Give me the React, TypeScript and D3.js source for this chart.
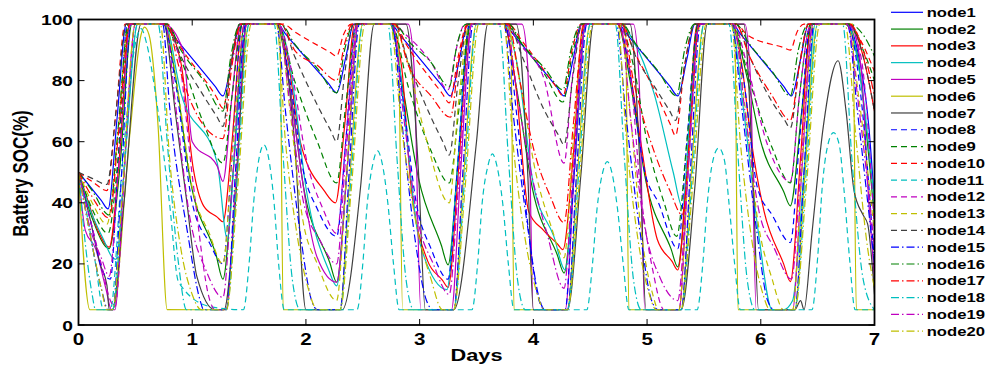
import React from "react";
import * as d3 from "d3";

type Pt = [number, number];
const P = 98.5;

const nodeNames = ["node1","node2","node3","node4","node5","node6","node7","node8","node9","node10","node11","node12","node13","node14","node15","node16","node17","node18","node19","node20"];
const nodeColors = ["#0000ff","#008000","#ff0000","#00bfbf","#bf00bf","#bfbf00","#404040","#0000ff","#008000","#ff0000","#00bfbf","#bf00bf","#bfbf00","#404040","#0000ff","#008000","#ff0000","#00bfbf","#bf00bf","#bfbf00"];
const nodeStyles = ["solid","solid","solid","solid","solid","solid","solid","dash","dash","dash","dash","dash","dash","dash","dashdot","dashdot","dashdot","dashdot","dashdot","dashdot"];

const xTicks = [0, 1, 2, 3, 4, 5, 6, 7];
const yTicks = [0, 20, 40, 60, 80, 100];

const node1: Pt[] = [[0,50],[0.2,40.8],[0.26,38],[0.34,68],[0.42,P],[0.75,P],[0.82,95.3],[1.2,78.2],[1.27,75],[1.35,87],[1.42,P],[1.75,P],[1.82,95.3],[2.2,79],[2.27,76],[2.35,87.5],[2.42,P],[2.75,P],[2.82,95.3],[3.2,78.2],[3.27,75],[3.35,87],[3.42,P],[3.75,P],[3.82,95.3],[4.2,78.2],[4.27,75],[4.35,87],[4.42,P],[4.75,P],[4.82,95.3],[5.2,78.2],[5.27,75],[5.35,87],[5.42,P],[5.75,P],[5.82,95.3],[6.2,78.2],[6.27,75],[6.35,87],[6.42,P],[6.76,P],[6.85,90],[6.95,65],[7,40]];
const node2: Pt[] = [[0,50],[0.12,35],[0.27,25],[0.36,50],[0.47,P],[0.75,P],[0.85,82],[0.98,48],[1.21,22.9],[1.27,15],[1.36,50],[1.46,P],[1.74,P],[1.85,80],[1.98,45],[2.21,20.4],[2.27,14],[2.36,50],[2.46,P],[2.74,P],[2.85,78],[2.99,48],[3.19,26.2],[3.25,19.7],[3.34,55],[3.45,P],[3.74,P],[3.85,78],[3.99,45],[4.21,23],[4.27,17],[4.36,50],[4.46,P],[4.74,P],[4.85,80],[4.99,47],[5.21,25],[5.27,19],[5.36,55],[5.45,P],[5.74,P],[5.88,81],[6.0,60],[6.2,43.8],[6.26,39],[6.36,70],[6.45,P],[6.74,P],[6.85,88],[6.95,55],[7,35]];
const node3: Pt[] = [[0,50],[0.08,41],[0.17,31],[0.27,25.5],[0.36,55],[0.45,P],[0.75,P],[0.9,86],[1.01,51],[1.1,39],[1.22,35.3],[1.27,33.8],[1.35,60],[1.44,P],[1.74,P],[1.84,87],[1.95,60],[2.16,44],[2.26,40],[2.34,65],[2.43,P],[2.74,P],[2.84,85],[2.92,47],[3.07,21],[3.2,14.7],[3.25,12.3],[3.34,50],[3.44,P],[3.74,P],[3.84,80],[3.96,37],[4.09,31],[4.21,26.6],[4.26,24.7],[4.35,55],[4.44,P],[4.74,P],[4.84,85],[4.94,61],[5.09,28],[5.22,20.8],[5.27,18],[5.35,50],[5.44,P],[5.74,P],[5.83,86],[5.91,62],[6.03,37],[6.2,20.1],[6.26,14.2],[6.35,55],[6.44,P],[6.78,P],[6.9,88],[7,70]];
const node4: Pt[] = [[0,50],[0.1,38],[0.22,28],[0.3,22],[0.33,21.5],[0.42,60],[0.52,P],[0.76,P],[0.9,76],[1.22,53],[1.31,28],[1.38,60],[1.48,P],[1.76,P],[1.88,80],[2.0,45],[2.2,18],[2.27,12.8],[2.36,50],[2.46,P],[2.74,P],[2.81,89],[2.89,60],[3.0,27],[3.24,11.6],[3.32,45],[3.44,P],[3.74,P],[3.86,85],[4.0,46],[4.18,29],[4.28,18],[4.36,50],[4.46,P],[4.76,P],[4.88,93],[5.06,76],[5.23,50],[5.31,38.6],[5.38,70],[5.46,P],[5.74,P],[5.85,70],[5.98,30],[6.1,5],[6.2,5],[6.28,8],[6.38,50],[6.48,P],[6.76,P],[6.88,80],[7,40]];
const node5: Pt[] = [[0,50],[0.06,31],[0.15,25],[0.24,12],[0.29,5],[0.32,5],[0.4,50],[0.5,P],[0.75,P],[0.92,90],[1.0,60],[1.22,52],[1.27,47],[1.35,75],[1.43,P],[1.75,P],[1.85,80],[1.9,66],[2.1,22],[2.27,14],[2.36,50],[2.46,P],[2.9,P],[2.95,85],[3.01,5],[3.28,5],[3.36,50],[3.46,P],[3.9,P],[3.95,85],[4.0,5],[4.28,5],[4.36,50],[4.46,P],[4.88,P],[4.93,80],[4.98,5],[5.28,5],[5.36,50],[5.46,P],[5.86,P],[5.91,80],[5.96,5],[6.28,5],[6.36,50],[6.46,P],[6.78,P],[6.88,85],[6.95,40],[7,15]];
const node6: Pt[] = [[0,50],[0.1,5],[0.3,5],[0.45,62],[0.55,95],[0.58,97.5],[0.62,95],[0.7,65],[0.78,5],[1.3,5],[1.38,45],[1.5,P],[1.77,P],[1.8,5],[2.3,5],[2.38,45],[2.5,P],[2.81,P],[2.85,5],[3.3,5],[3.38,45],[3.5,P],[3.8,P],[3.83,5],[4.3,5],[4.38,45],[4.5,P],[4.81,P],[4.84,5],[5.3,5],[5.38,45],[5.5,P],[5.77,P],[5.8,5],[6.3,5],[6.38,45],[6.5,P],[6.81,P],[6.84,5],[7,5]];
const node7: Pt[] = [[0,50],[0.1,35],[0.19,20],[0.25,13],[0.27,5],[0.3,5],[0.4,40],[0.55,P],[0.75,P],[0.85,70],[0.95,41],[1.04,16],[1.2,5],[1.28,5],[1.38,40],[1.48,P],[1.74,P],[1.9,60],[2.0,5],[2.32,5],[2.48,45],[2.6,P],[2.88,P],[2.99,50],[3.05,5],[3.3,5],[3.5,60],[3.6,P],[3.85,P],[3.95,50],[4.0,5],[4.3,5],[4.42,50],[4.53,P],[4.85,P],[4.94,50],[4.99,5],[5.3,5],[5.42,45],[5.53,P],[5.85,P],[5.93,50],[5.98,5],[6.3,5],[6.35,8],[6.38,5],[6.45,30],[6.55,65],[6.68,86.5],[6.75,70],[6.82,44],[6.9,36],[6.94,33],[7,10]];
const node8: Pt[] = [[0,50],[0.12,32],[0.22,17],[0.28,15],[0.35,55],[0.43,P],[0.75,P],[0.85,80],[1.0,40],[1.15,27],[1.27,20],[1.35,55],[1.44,P],[1.75,P],[1.85,82],[1.98,50],[2.1,38],[2.27,29],[2.35,60],[2.44,P],[2.75,P],[2.85,75],[2.97,40],[3.1,25],[3.25,15],[3.33,50],[3.44,P],[3.75,P],[3.85,70],[3.96,30],[4.05,8],[4.1,5],[4.28,5],[4.35,45],[4.45,P],[4.75,P],[4.85,82],[4.98,50],[5.1,40],[5.27,25],[5.35,60],[5.45,P],[5.75,P],[5.85,80],[5.97,45],[6.1,36],[6.26,27],[6.34,60],[6.44,P],[6.76,P],[6.88,75],[7,20]];
const node9: Pt[] = [[0,50],[0.12,38],[0.26,30],[0.35,55],[0.45,P],[0.75,P],[0.9,87],[1.1,66],[1.27,53],[1.35,75],[1.44,P],[1.75,P],[1.9,80],[2.1,60],[2.27,46.5],[2.35,72],[2.45,P],[2.75,P],[2.9,78],[3.1,57],[3.26,46.5],[3.35,72],[3.45,P],[3.75,P],[3.9,92],[4.1,82],[4.26,73],[4.34,88],[4.43,P],[4.75,P],[4.88,85],[5.0,60],[5.15,40],[5.26,29],[5.35,60],[5.45,P],[5.75,P],[5.9,80],[6.1,58],[6.26,46.5],[6.34,75],[6.44,P],[6.76,P],[6.9,90],[7,80]];
const node10: Pt[] = [[0,50],[0.12,47],[0.25,44],[0.33,70],[0.41,P],[0.78,P],[0.88,92],[1.21,74.8],[1.27,71],[1.35,88],[1.42,P],[1.8,P],[1.9,96],[2.21,89.3],[2.27,88],[2.33,95],[2.4,P],[2.78,P],[2.88,92],[3.2,75.7],[3.26,72.7],[3.34,88],[3.42,P],[3.78,P],[3.9,93],[4.2,78],[4.26,75],[4.34,90],[4.42,P],[4.78,P],[4.88,90],[5.05,78],[5.2,66],[5.25,62],[5.33,85],[5.42,P],[5.78,P],[5.88,95],[6.2,90.8],[6.26,90],[6.32,96],[6.38,P],[6.78,P],[6.88,93],[7,83]];
const node11: Pt[] = [[0,50],[0.08,35],[0.15,20],[0.22,5],[0.28,5],[0.38,50],[0.5,92],[0.55,97],[0.6,92],[0.68,75],[0.8,40],[0.88,14],[1.16,6],[1.45,5],[1.5,20],[1.54,40],[1.59,55],[1.63,59],[1.67,55],[1.72,40],[1.76,20],[1.81,5],[2.45,5],[2.5,20],[2.54,40],[2.59,53],[2.63,57],[2.67,53],[2.72,40],[2.77,20],[2.82,5],[3.46,5],[3.51,20],[3.55,40],[3.6,52],[3.64,56],[3.68,52],[3.73,40],[3.78,20],[3.83,5],[4.47,5],[4.52,20],[4.56,38],[4.61,50],[4.65,53.5],[4.69,50],[4.74,38],[4.79,20],[4.84,5],[5.44,5],[5.49,20],[5.53,40],[5.58,54],[5.63,58],[5.68,54],[5.72,40],[5.77,20],[5.82,5],[6.45,5],[6.5,22],[6.54,45],[6.59,59],[6.64,63],[6.69,59],[6.73,45],[6.78,22],[6.83,5],[7,5]];
const node12: Pt[] = [[0,50],[0.1,35],[0.2,20],[0.28,8],[0.32,6],[0.42,60],[0.5,P],[0.76,P],[0.88,88],[1.0,49],[1.16,7.5],[1.2,5],[1.3,5],[1.38,45],[1.48,P],[1.76,P],[1.88,82],[2.0,55],[2.15,38],[2.27,30],[2.35,60],[2.45,P],[2.76,P],[2.88,95],[3.1,86],[3.25,77],[3.32,90],[3.4,P],[3.76,P],[3.88,92],[4.09,81],[4.27,53],[4.34,80],[4.43,P],[4.76,P],[4.86,80],[4.94,45],[5.05,18],[5.15,5],[5.28,5],[5.36,50],[5.46,P],[5.76,P],[5.88,85],[6.05,60],[6.26,47],[6.34,75],[6.44,P],[6.76,P],[6.88,88],[7,31]];
const node13: Pt[] = [[0,50],[0.12,40],[0.25,33],[0.34,60],[0.44,P],[0.76,P],[0.88,75],[1.0,45],[1.15,30],[1.27,20],[1.35,55],[1.46,P],[1.76,P],[1.86,70],[1.97,35],[2.1,20],[2.27,8],[2.35,45],[2.46,P],[2.76,P],[2.88,88],[3.05,62],[3.26,40],[3.34,72],[3.44,P],[3.76,P],[3.88,80],[4.02,50],[4.15,33],[4.27,22],[4.35,60],[4.45,P],[4.76,P],[4.85,70],[4.95,30],[5.05,10],[5.1,5],[5.28,5],[5.36,50],[5.47,P],[5.76,P],[5.86,72],[5.97,35],[6.1,15],[6.2,5],[6.28,5],[6.36,50],[6.47,P],[6.76,P],[6.86,75],[7,30]];
const node14: Pt[] = [[0,50],[0.12,48],[0.25,46],[0.33,70],[0.42,P],[0.78,P],[0.9,88],[1.1,75],[1.22,68],[1.27,65],[1.34,85],[1.42,P],[1.78,P],[1.9,88],[2.1,72],[2.22,63.5],[2.27,60],[2.34,82],[2.42,P],[2.78,P],[2.9,86],[3.1,68],[3.21,59.5],[3.26,55.6],[3.34,80],[3.43,P],[3.78,P],[3.9,88],[4.1,70],[4.22,62.2],[4.27,59],[4.35,82],[4.43,P],[4.78,P],[4.9,88],[5.1,76],[5.2,70],[5.25,67],[5.33,85],[5.42,P],[5.78,P],[5.9,88],[6.1,73],[6.21,67],[6.26,64.5],[6.34,85],[6.42,P],[6.78,P],[6.9,88],[7,70]];
const node15: Pt[] = [[0,50],[0.1,30],[0.2,12],[0.26,5],[0.3,5],[0.38,50],[0.46,P],[0.74,P],[0.8,72],[0.96,30],[1.07,8],[1.1,5],[1.3,5],[1.38,50],[1.47,P],[1.74,P],[1.82,70],[1.95,30],[2.05,8],[2.1,5],[2.3,5],[2.38,50],[2.47,P],[2.76,P],[2.84,68],[2.96,28],[3.06,8],[3.12,5],[3.3,5],[3.38,50],[3.47,P],[3.74,P],[3.82,70],[3.95,32],[4.05,9],[4.1,5],[4.3,5],[4.38,50],[4.47,P],[4.73,P],[4.81,70],[4.94,30],[5.04,8],[5.1,5],[5.3,5],[5.38,50],[5.47,P],[5.74,P],[5.83,72],[5.96,32],[6.06,8],[6.12,5],[6.3,5],[6.38,50],[6.47,P],[6.76,P],[6.85,70],[7,20]];
const node16: Pt[] = [[0,50],[0.12,44],[0.27,36],[0.35,65],[0.44,P],[0.78,P],[0.9,90],[1.1,80],[1.27,70],[1.34,88],[1.42,P],[1.78,P],[1.9,92],[2.1,84],[2.27,76],[2.34,90],[2.42,P],[2.78,P],[2.9,93],[3.1,86],[3.26,78],[3.33,92],[3.41,P],[3.78,P],[3.9,92],[4.1,84],[4.26,77],[4.33,90],[4.42,P],[4.78,P],[4.9,92],[5.1,83],[5.26,75],[5.33,90],[5.42,P],[5.78,P],[5.9,92],[6.1,83],[6.26,75],[6.33,90],[6.42,P],[6.78,P],[6.9,95],[7,88]];
const node17: Pt[] = [[0,50],[0.12,42],[0.27,35],[0.35,62],[0.45,P],[0.78,P],[0.88,85],[1.0,72],[1.27,61],[1.35,85],[1.43,P],[1.78,P],[1.9,90],[2.1,85],[2.27,80],[2.34,92],[2.41,P],[2.78,P],[2.9,85],[3.1,75],[3.27,68],[3.35,88],[3.43,P],[3.78,P],[3.88,80],[4.0,58],[4.15,42],[4.27,33.5],[4.35,65],[4.45,P],[4.78,P],[4.88,80],[5.06,57],[5.2,44],[5.31,36],[5.38,65],[5.46,P],[5.78,P],[5.9,88],[6.1,75],[6.26,67],[6.34,85],[6.42,P],[6.78,P],[6.9,90],[7,75]];
const node18: Pt[] = [[0,50],[0.05,30],[0.12,10],[0.15,5],[0.3,5],[0.4,50],[0.52,P],[0.7,P],[0.78,60],[0.88,20],[0.95,5],[1.3,5],[1.4,50],[1.5,P],[1.72,P],[1.8,55],[1.88,15],[1.95,5],[2.3,5],[2.4,50],[2.5,P],[2.72,P],[2.8,55],[2.88,15],[2.95,5],[3.3,5],[3.4,50],[3.5,P],[3.7,P],[3.78,55],[3.86,15],[3.93,5],[4.3,5],[4.4,50],[4.5,P],[4.72,P],[4.8,55],[4.88,15],[4.95,5],[5.3,5],[5.4,50],[5.5,P],[5.72,P],[5.8,55],[5.88,15],[5.95,5],[6.3,5],[6.4,50],[6.5,P],[6.72,P],[6.8,55],[6.9,15],[7,5]];
const node19: Pt[] = [[0,50],[0.1,32],[0.2,22],[0.27,16],[0.35,50],[0.46,P],[0.76,P],[0.86,70],[0.98,35],[1.12,18],[1.27,9],[1.35,45],[1.46,P],[1.76,P],[1.86,72],[1.98,40],[2.12,28],[2.27,20],[2.35,55],[2.46,P],[2.76,P],[2.86,68],[2.98,35],[3.12,20],[3.26,10],[3.34,45],[3.46,P],[3.76,P],[3.86,75],[3.98,50],[4.12,30],[4.27,12],[4.34,45],[4.46,P],[4.76,P],[4.86,66],[4.98,32],[5.12,15],[5.27,8],[5.35,45],[5.46,P],[5.76,P],[5.86,70],[5.98,38],[6.12,25],[6.27,15],[6.35,50],[6.46,P],[6.76,P],[6.86,72],[7,25]];
const node20: Pt[] = [[0,50],[0.1,30],[0.2,12],[0.25,5],[0.3,5],[0.38,40],[0.5,P],[0.72,P],[0.8,55],[0.9,25],[1.0,10],[1.08,5],[1.3,5],[1.4,45],[1.52,P],[1.74,P],[1.82,60],[1.92,30],[2.02,12],[2.1,5],[2.3,5],[2.4,45],[2.52,P],[2.74,P],[2.84,65],[2.96,35],[3.1,15],[3.2,5],[3.3,5],[3.4,45],[3.52,P],[3.74,P],[3.82,60],[3.92,30],[4.02,12],[4.1,5],[4.3,5],[4.4,45],[4.52,P],[4.74,P],[4.82,60],[4.92,28],[5.02,10],[5.08,5],[5.3,5],[5.4,45],[5.52,P],[5.74,P],[5.82,60],[5.92,28],[6.02,10],[6.08,5],[6.3,5],[6.4,45],[6.52,P],[6.74,P],[6.84,60],[6.94,25],[7,12]];

const nodeData: Pt[][] = [node1,node2,node3,node4,node5,node6,node7,node8,node9,node10,node11,node12,node13,node14,node15,node16,node17,node18,node19,node20];

const W = 992, H = 369;
const L = 78.5, R = 874.5, T = 19.5, B = 325;
const FONT = "'Liberation Sans', Arial, Helvetica, sans-serif";
const SX = 1.28;

function dashFor(s: string) {
  if (s === "dash") return "6,4";
  if (s === "dashdot") return "8,3,1.5,3";
  return undefined;
}

export default function App() {
  const x = d3.scaleLinear().domain([0, 7]).range([L, R]);
  const y = d3.scaleLinear().domain([0, 100]).range([B, T]);
  const line = d3.line<Pt>().x(d => x(d[0])).y(d => y(d[1])).curve(d3.curveMonotoneX);
  return (
    <svg width={W} height={H} style={{ position: "absolute", left: 0, top: 0, background: "#fff" }} fontFamily={FONT}>
      <defs>
        <clipPath id="plotclip"><rect x={L} y={T} width={R - L} height={B - T} /></clipPath>
      </defs>
      <rect x={0} y={0} width={W} height={H} fill="#fff" />
      <g clipPath="url(#plotclip)">
        {nodeData.map((d, i) => (
          <path key={i} d={line(d) || ""} fill="none" stroke={nodeColors[i]} strokeWidth={1.2}
            strokeLinejoin="round" strokeDasharray={dashFor(nodeStyles[i])} />
        ))}
      </g>
      <rect x={L} y={T} width={R - L} height={B - T} fill="none" stroke="#000" strokeWidth={1.8} />
      {xTicks.map(t => (
        <g key={"x" + t}>
          <line x1={x(t)} x2={x(t)} y1={B} y2={B - 6} stroke="#000" strokeWidth={1} />
          <line x1={x(t)} x2={x(t)} y1={T} y2={T + 6} stroke="#000" strokeWidth={1} />
          <text transform={`translate(${x(t)},345) scale(${SX},1)`} textAnchor="middle" fontSize={16} fontWeight="bold">{t}</text>
        </g>
      ))}
      {yTicks.map(t => (
        <g key={"y" + t}>
          <line x1={L} x2={L + 6} y1={y(t)} y2={y(t)} stroke="#000" strokeWidth={1} />
          <line x1={R} x2={R - 6} y1={y(t)} y2={y(t)} stroke="#000" strokeWidth={1} />
          <text transform={`translate(73,${y(t) + 5.5}) scale(${SX},1)`} textAnchor="end" fontSize={15} fontWeight="bold">{t}</text>
        </g>
      ))}
      <text transform={`translate(${(L + R) / 2},361) scale(${SX},1)`} textAnchor="middle" fontSize={17} fontWeight="bold">Days</text>
      <text transform={`translate(28,173.5) scale(${SX},1) rotate(-90)`} textAnchor="middle" fontSize={17} fontWeight="bold">Battery SOC(%)</text>
      {nodeNames.map((n, i) => {
        const ly = 12.3 + i * 16.78;
        return (
          <g key={n}>
            <line x1={891} x2={923} y1={ly} y2={ly} stroke={nodeColors[i]} strokeWidth={1.2} strokeDasharray={dashFor(nodeStyles[i])} />
            <text transform={`translate(926.7,${ly + 4.6}) scale(${SX},1)`} fontSize={13} fontWeight="bold">{n}</text>
          </g>
        );
      })}
    </svg>
  );
}
